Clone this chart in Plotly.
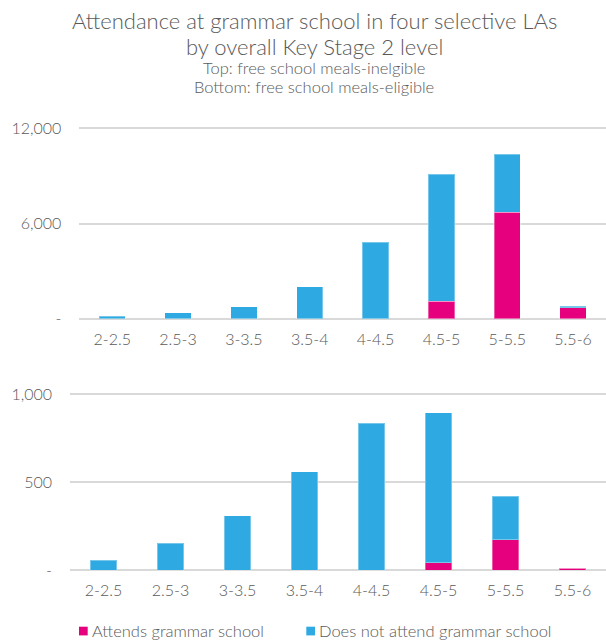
import plotly.graph_objects as go

categories = ["2-2.5", "2.5-3", "3-3.5", "3.5-4", "4-4.5", "4.5-5", "5-5.5", "5.5-6"]
# Top: FSM-ineligible
top_attends = [0, 0, 0, 0, 0, 1115, 6705, 675]
top_not_attend = [140, 380, 740, 2017, 4815, 7985, 3675, 125]
# Bottom: FSM-eligible
bot_attends = [0, 0, 0, 0, 0, 43, 174, 12]
bot_not_attend = [57, 155, 309, 559, 835, 851, 248, 1]

top_ticks = [0, 6000, 12000]
top_ticktext = ["-", "6,000", "12,000"]
bot_ticks = [0, 500, 1000]
bot_ticktext = ["-", "500", "1,000"]

PINK = "#E6007E"
BLUE = "#2EA9E1"
GRAY = "#595959"
GRID = "#D9D9D9"
FONT = "Lato"

W, H = 606, 642

fig = go.Figure()
edge = dict(color="rgba(255,255,255,0.35)", width=1)
fig.add_trace(go.Bar(x=categories, y=top_attends, marker=dict(color=PINK, line=edge),
                     width=0.4, xaxis="x", yaxis="y", name="Attends grammar school", showlegend=False))
fig.add_trace(go.Bar(x=categories, y=top_not_attend, marker=dict(color=BLUE, line=edge),
                     width=0.4, xaxis="x", yaxis="y", name="Does not attend grammar school", showlegend=False))
fig.add_trace(go.Bar(x=categories, y=bot_attends, marker=dict(color=PINK, line=edge),
                     width=0.4, xaxis="x2", yaxis="y2", name="Attends grammar school", showlegend=False))
fig.add_trace(go.Bar(x=categories, y=bot_not_attend, marker=dict(color=BLUE, line=edge),
                     width=0.4, xaxis="x2", yaxis="y2", name="Does not attend grammar school", showlegend=False))

def ydom(top_px, bottom_px):
    return [1 - bottom_px / H, 1 - top_px / H]

t0, t12 = 318.7, 128.3
tpx = (t0 - t12) / 12000
top_max = 12150
b0, b1 = 570.3, 394.3
bpx = (b0 - b1) / 1000
bot_max = 1012

axis_common = dict(showline=False, ticks="", automargin=False,
                   tickfont=dict(family=FONT, size=16, color=GRAY, weight=300), fixedrange=True)

fig.update_layout(
    template="none",
    width=W, height=H,
    margin=dict(l=0, r=0, t=0, b=0),
    paper_bgcolor="white", plot_bgcolor="white",
    barmode="stack",
    showlegend=False,
    font=dict(family=FONT, color=GRAY, weight=300),
    xaxis=dict(domain=[79.3 / W, 1], range=[-0.5, 7.5], showgrid=False, zeroline=False,
               ticklabelstandoff=9, anchor="y", **axis_common),
    yaxis=dict(domain=ydom(t0 - top_max * tpx, t0), range=[0, top_max], tickvals=top_ticks, ticktext=top_ticktext,
               showgrid=True, gridcolor=GRID, gridwidth=1.8, zeroline=True, zerolinecolor=GRID, zerolinewidth=2,
               ticklabelstandoff=17, anchor="x", **axis_common),
    xaxis2=dict(domain=[70.0 / W, 1], range=[-0.5, 7.5], showgrid=False, zeroline=False,
                ticklabelstandoff=9, anchor="y2", **axis_common),
    yaxis2=dict(domain=ydom(b0 - bot_max * bpx, b0), range=[0, bot_max], tickvals=bot_ticks, ticktext=bot_ticktext,
                showgrid=True, gridcolor=GRID, gridwidth=1.8, zeroline=True, zerolinecolor=GRID, zerolinewidth=2,
                ticklabelstandoff=17, anchor="x2", **axis_common),
)

title_lines = [
    ("Attendance at grammar school in four selective LAs", 21, 22),
    ("by overall Key Stage 2 level", 47, 22),
    ("Top: free school meals-inelgible", 68, 16.5),
    ("Bottom: free school meals-eligible", 87, 16.5),
]
for text, ypx, size in title_lines:
    fig.add_annotation(text=text, xref="paper", yref="paper", x=314 / W, y=1 - ypx / H,
                       xanchor="center", yanchor="middle", showarrow=False,
                       font=dict(family=FONT, size=size, color=GRAY, weight=300))

legend_y = 631.0
legend_items = [("Attends grammar school", PINK, 79.0), ("Does not attend grammar school", BLUE, 306.3)]
for text, color, xpx in legend_items:
    fig.add_shape(type="rect", xref="paper", yref="paper",
                  x0=xpx / W, x1=(xpx + 8.7) / W, y0=1 - (legend_y + 4.4) / H, y1=1 - (legend_y - 4.3) / H,
                  fillcolor=color, line=dict(width=0))
    fig.add_annotation(text=text, xref="paper", yref="paper",
                       x=(xpx + 11.0) / W, y=1 - legend_y / H, xanchor="left", yanchor="middle", showarrow=False,
                       font=dict(family=FONT, size=16.5, color=GRAY, weight=300))

fig.write_html("out.html")
